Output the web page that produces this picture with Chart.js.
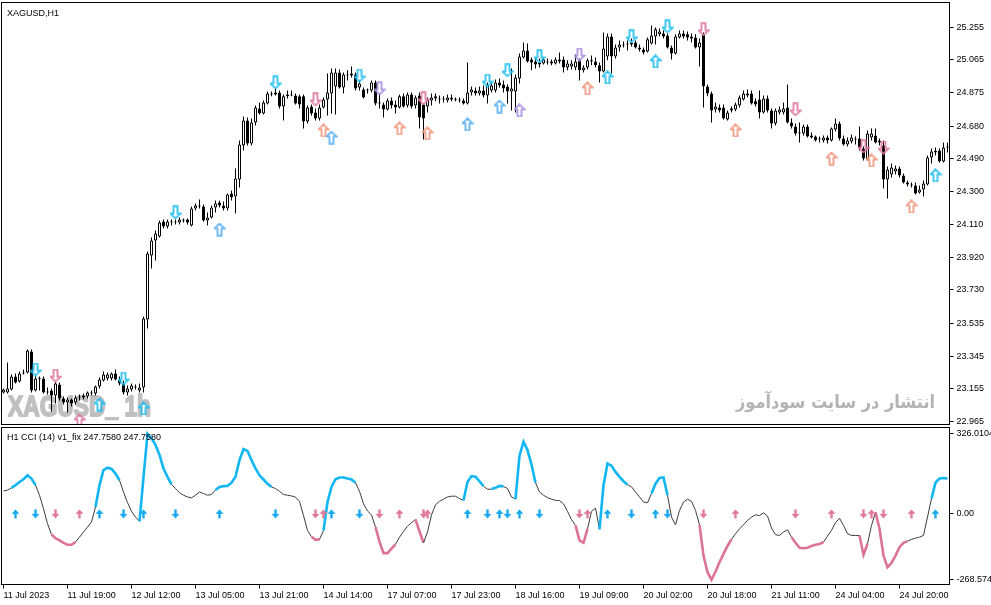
<!DOCTYPE html>
<html>
<head>
<meta charset="utf-8">
<title>XAGUSD,H1</title>
<script src="https://cdn.jsdelivr.net/npm/chart.js@4.4.1/dist/chart.umd.min.js"></script>
<style>
    html, body { margin: 0; padding: 0; background: #fff; }
    #wrap { position: relative; width: 991px; height: 605px; overflow: hidden; }
    #price { position: absolute; left: 0; top: 0; }
    #cci { position: absolute; left: 0; top: 425px; }
</style>
</head>
<body>
<div id="wrap">
    <canvas id="price" width="991" height="430"></canvas>
    <canvas id="cci" width="991" height="180"></canvas>
</div>
<script>
// H1 candles, 11 Jul 2023 .. 24 Jul 2023
const OPEN = [
    23.134, 23.134, 23.151, 23.227, 23.198, 23.244, 23.250, 23.372, 23.145, 23.215,
    23.215, 23.140, 23.145, 23.116, 23.180, 23.099, 23.076, 23.093, 23.076, 23.105,
    23.105, 23.110, 23.134, 23.128, 23.168, 23.203, 23.215, 23.215, 23.244, 23.209,
    23.186, 23.134, 23.151, 23.168, 23.145, 23.163, 23.558, 23.929, 24.016, 24.040,
    24.127, 24.098, 24.121, 24.121, 24.121, 24.132, 24.138, 24.103, 24.202, 24.214,
    24.214, 24.132, 24.150, 24.208, 24.237, 24.220, 24.202, 24.289, 24.272, 24.371,
    24.568, 24.713, 24.580, 24.702, 24.783, 24.754, 24.812, 24.864, 24.876, 24.876,
    24.794, 24.853, 24.858, 24.858, 24.853, 24.853, 24.707, 24.794, 24.760, 24.725,
    24.789, 24.835, 24.870, 24.911, 24.992, 24.905, 24.974, 24.974, 24.980, 24.905,
    24.893, 24.887, 24.887, 24.934, 24.812, 24.806, 24.777, 24.829, 24.806, 24.789,
    24.853, 24.800, 24.864, 24.800, 24.858, 24.806, 24.794, 24.829, 24.853, 24.841,
    24.835, 24.829, 24.847, 24.835, 24.835, 24.829, 24.812, 24.876, 24.887, 24.870,
    24.887, 24.858, 24.887, 24.887, 24.934, 24.922, 24.911, 24.882, 24.882, 24.957,
    25.079, 25.120, 25.067, 25.056, 25.038, 25.044, 25.056, 25.056, 25.044, 25.067,
    25.067, 25.021, 25.027, 25.021, 25.062, 25.004, 25.021, 25.062, 25.056, 25.033,
    24.998, 25.085, 25.201, 25.085, 25.137, 25.154, 25.154, 25.154, 25.166, 25.137,
    25.125, 25.114, 25.160, 25.201, 25.213, 25.218, 25.207, 25.137, 25.102, 25.195,
    25.218, 25.213, 25.189, 25.195, 25.137, 25.213, 24.911, 24.870, 24.777, 24.789,
    24.789, 24.719, 24.771, 24.777, 24.800, 24.835, 24.858, 24.870, 24.824, 24.835,
    24.760, 24.841, 24.771, 24.696, 24.760, 24.760, 24.789, 24.702, 24.678, 24.638,
    24.638, 24.678, 24.626, 24.620, 24.603, 24.597, 24.614, 24.597, 24.661, 24.696,
    24.609, 24.574, 24.591, 24.609, 24.609, 24.551, 24.487, 24.614, 24.626, 24.597,
    24.568, 24.371, 24.400, 24.417, 24.434, 24.394, 24.353, 24.341, 24.336, 24.295,
    24.312, 24.341, 24.498, 24.527, 24.539, 24.475, 24.556
];
const HIGH = [
    23.157, 23.308, 23.238, 23.244, 23.256, 23.267, 23.383, 23.383, 23.232, 23.227,
    23.227, 23.163, 23.157, 23.198, 23.192, 23.110, 23.105, 23.099, 23.116, 23.122,
    23.128, 23.140, 23.145, 23.174, 23.221, 23.256, 23.250, 23.250, 23.267, 23.227,
    23.203, 23.174, 23.186, 23.180, 23.186, 23.575, 23.952, 24.034, 24.074, 24.132,
    24.138, 24.138, 24.138, 24.138, 24.150, 24.144, 24.144, 24.214, 24.231, 24.254,
    24.225, 24.179, 24.220, 24.249, 24.249, 24.243, 24.289, 24.307, 24.434, 24.597,
    24.736, 24.731, 24.725, 24.800, 24.818, 24.829, 24.882, 24.882, 24.899, 24.887,
    24.864, 24.887, 24.887, 24.870, 24.864, 24.864, 24.800, 24.806, 24.783, 24.806,
    24.847, 24.986, 25.015, 25.015, 25.009, 24.992, 25.004, 25.027, 24.992, 24.945,
    24.905, 24.899, 24.945, 24.945, 24.870, 24.818, 24.841, 24.847, 24.829, 24.864,
    24.870, 24.876, 24.876, 24.858, 24.876, 24.812, 24.847, 24.870, 24.870, 24.858,
    24.853, 24.864, 24.864, 24.847, 24.847, 24.841, 25.050, 24.911, 24.905, 24.911,
    24.916, 24.934, 24.934, 24.951, 24.957, 24.945, 24.922, 25.015, 24.980, 25.102,
    25.166, 25.160, 25.079, 25.073, 25.073, 25.079, 25.073, 25.067, 25.079, 25.108,
    25.085, 25.062, 25.062, 25.096, 25.073, 25.033, 25.073, 25.091, 25.079, 25.050,
    25.224, 25.218, 25.218, 25.154, 25.178, 25.172, 25.178, 25.189, 25.178, 25.154,
    25.137, 25.195, 25.265, 25.253, 25.247, 25.236, 25.218, 25.149, 25.213, 25.236,
    25.236, 25.230, 25.218, 25.213, 25.189, 25.224, 24.922, 24.882, 24.818, 24.806,
    24.806, 24.771, 24.794, 24.818, 24.858, 24.887, 24.893, 24.887, 24.841, 24.887,
    24.858, 24.858, 24.783, 24.783, 24.794, 24.818, 24.922, 24.725, 24.696, 24.702,
    24.690, 24.690, 24.643, 24.626, 24.620, 24.626, 24.626, 24.673, 24.725, 24.707,
    24.626, 24.614, 24.632, 24.620, 24.678, 24.562, 24.655, 24.667, 24.667, 24.609,
    24.597, 24.446, 24.463, 24.452, 24.446, 24.405, 24.365, 24.353, 24.353, 24.336,
    24.365, 24.510, 24.551, 24.556, 24.551, 24.585, 24.585
];
const LOW = [
    23.128, 23.128, 23.145, 23.186, 23.192, 23.238, 23.244, 23.134, 23.140, 23.145,
    23.128, 23.122, 23.023, 23.070, 23.087, 23.064, 23.018, 23.052, 23.064, 23.087,
    23.093, 23.099, 23.116, 23.116, 23.157, 23.198, 23.203, 23.203, 23.203, 23.174,
    23.122, 23.116, 23.140, 23.151, 23.134, 23.134, 23.505, 23.854, 23.900, 24.034,
    24.086, 24.086, 24.103, 24.109, 24.109, 24.121, 24.109, 24.098, 24.191, 24.202,
    24.127, 24.103, 24.144, 24.179, 24.208, 24.191, 24.191, 24.249, 24.173, 24.324,
    24.539, 24.568, 24.568, 24.684, 24.748, 24.748, 24.806, 24.853, 24.858, 24.783,
    24.713, 24.841, 24.853, 24.806, 24.783, 24.667, 24.696, 24.742, 24.713, 24.713,
    24.783, 24.742, 24.754, 24.748, 24.899, 24.870, 24.945, 24.963, 24.887, 24.887,
    24.841, 24.870, 24.876, 24.800, 24.783, 24.731, 24.771, 24.783, 24.754, 24.783,
    24.789, 24.789, 24.783, 24.783, 24.667, 24.603, 24.760, 24.800, 24.824, 24.812,
    24.818, 24.818, 24.824, 24.824, 24.818, 24.806, 24.806, 24.858, 24.858, 24.858,
    24.847, 24.812, 24.876, 24.876, 24.905, 24.876, 24.812, 24.771, 24.760, 24.928,
    25.073, 25.050, 25.004, 25.015, 25.021, 25.038, 25.038, 25.033, 25.038, 25.044,
    24.992, 25.004, 25.009, 25.004, 24.945, 24.992, 25.009, 25.033, 25.021, 24.934,
    24.992, 25.062, 24.986, 25.073, 25.114, 25.137, 25.120, 25.143, 25.131, 25.114,
    25.096, 25.108, 25.154, 25.154, 25.201, 25.189, 25.131, 25.067, 25.096, 25.189,
    25.189, 25.178, 25.166, 25.131, 25.027, 24.789, 24.853, 24.702, 24.760, 24.760,
    24.719, 24.713, 24.760, 24.766, 24.789, 24.829, 24.847, 24.806, 24.794, 24.725,
    24.754, 24.760, 24.667, 24.684, 24.748, 24.748, 24.696, 24.667, 24.626, 24.585,
    24.626, 24.614, 24.609, 24.591, 24.585, 24.585, 24.580, 24.591, 24.649, 24.597,
    24.568, 24.562, 24.580, 24.574, 24.539, 24.481, 24.481, 24.597, 24.580, 24.568,
    24.318, 24.260, 24.382, 24.400, 24.382, 24.347, 24.330, 24.324, 24.283, 24.289,
    24.272, 24.336, 24.463, 24.510, 24.469, 24.469, 24.527
];
const CLOSE = [
    23.151, 23.157, 23.227, 23.192, 23.244, 23.250, 23.378, 23.145, 23.215, 23.213,
    23.134, 23.134, 23.116, 23.186, 23.099, 23.076, 23.093, 23.070, 23.105, 23.110,
    23.116, 23.134, 23.128, 23.168, 23.209, 23.238, 23.238, 23.244, 23.209, 23.186,
    23.134, 23.157, 23.174, 23.163, 23.163, 23.563, 23.941, 24.016, 24.057, 24.121,
    24.098, 24.127, 24.121, 24.127, 24.138, 24.132, 24.121, 24.202, 24.220, 24.220,
    24.132, 24.150, 24.208, 24.231, 24.220, 24.202, 24.283, 24.266, 24.376, 24.574,
    24.713, 24.580, 24.702, 24.789, 24.754, 24.818, 24.870, 24.870, 24.864, 24.794,
    24.853, 24.864, 24.864, 24.812, 24.806, 24.707, 24.789, 24.754, 24.725, 24.789,
    24.835, 24.876, 24.992, 24.992, 24.905, 24.980, 24.980, 24.986, 24.899, 24.928,
    24.847, 24.893, 24.934, 24.812, 24.818, 24.777, 24.829, 24.800, 24.789, 24.853,
    24.794, 24.864, 24.794, 24.847, 24.731, 24.725, 24.835, 24.847, 24.841, 24.835,
    24.838, 24.847, 24.835, 24.833, 24.829, 24.812, 24.876, 24.893, 24.870, 24.887,
    24.858, 24.922, 24.916, 24.934, 24.916, 24.899, 24.882, 24.899, 24.963, 25.085,
    25.120, 25.056, 25.050, 25.038, 25.050, 25.067, 25.050, 25.044, 25.067, 25.056,
    25.021, 25.044, 25.044, 25.056, 25.004, 25.021, 25.062, 25.056, 25.033, 24.998,
    25.131, 25.201, 25.085, 25.137, 25.154, 25.149, 25.160, 25.166, 25.137, 25.125,
    25.108, 25.184, 25.207, 25.242, 25.230, 25.201, 25.137, 25.102, 25.201, 25.218,
    25.201, 25.195, 25.201, 25.137, 25.166, 24.911, 24.870, 24.771, 24.794, 24.771,
    24.725, 24.760, 24.783, 24.806, 24.847, 24.870, 24.870, 24.812, 24.806, 24.760,
    24.841, 24.771, 24.696, 24.771, 24.777, 24.783, 24.702, 24.678, 24.638, 24.643,
    24.678, 24.620, 24.614, 24.597, 24.609, 24.614, 24.597, 24.667, 24.696, 24.609,
    24.574, 24.597, 24.614, 24.603, 24.551, 24.492, 24.638, 24.638, 24.585, 24.585,
    24.371, 24.429, 24.440, 24.434, 24.394, 24.353, 24.341, 24.336, 24.289, 24.312,
    24.347, 24.498, 24.533, 24.536, 24.475, 24.556, 24.562
];

// CCI(14) per bar
const CCI = [
    93, 97, 106, 117, 130, 141, 157, 144, 117, 76,
    21, -40, -84, -99, -108, -118, -126, -126, -115, -95,
    -74, -54, -33, 28, 117, 178, 188, 183, 164, 137,
    89, 46, 10, -13, -31, 150, 326.0104, 308, 281, 240,
    185, 151, 120, 103, 86, 76, 69, 65, 76, 89,
    83, 76, 79, 97, 110, 113, 114, 127, 151, 219,
    264, 256, 219, 185, 157, 140, 123, 110, 103, 92,
    79, 76, 73, 68, 51, -7, -68, -93, -106, -104,
    -68, 48, 110, 141, 148, 148, 144, 140, 127, 92,
    41, 12, -4, -54, -113, -160, -160, -142, -124, -95,
    -72, -50, -36, -23, -72, -118, -74, -4, 37, 51,
    60, 69, 72, 72, 62, 55, 130, 154, 151, 133,
    113, 100, 101, 106, 114, 112, 103, 69, 60, 237,
    294, 260, 201, 127, 89, 76, 66, 60, 55, 54,
    41, 10, -23, -47, -108, -118, -61, 10, 23, -63,
    117, 205, 196, 171, 151, 133, 119, 110, 89, 69,
    48, 45, 83, 123, 146, 148, 76, -13, -45, 14,
    48, 60, 51, 14, -45, -170, -238, -268.574, -236, -197,
    -163, -131, -104, -81, -61, -45, -27, -13, -4, -7,
    4, -9, -58, -85, -88, -74, -65, -95, -118, -138,
    -140, -138, -131, -126, -123, -115, -91, -67, -36, -18,
    -47, -81, -88, -88, -88, -167, -122, -47, 7, -61,
    -170, -218, -200, -170, -136, -118, -111, -104, -99, -95,
    -88, -13, 62, 127, 144, 146, 144
];
// bar ranges where the CCI line is drawn in colour
const CCI_UP_ZONES = [[2, 8], [23, 29], [34, 42], [53, 67], [80, 88], [115, 120], [122, 125], [128, 133], [149, 156], [162, 166], [232, 236]];
const CCI_DOWN_ZONES = [[12, 18], [77, 79], [93, 98], [103, 105], [143, 146], [174, 182], [197, 205], [214, 216], [218, 226]];

// signal arrows on the price pane
const ARROW_BARS = [8, 13, 19, 24, 30, 35, 43, 54, 68, 78, 80, 82, 89, 94, 99, 105, 106, 116, 121, 124, 126, 129, 134, 144, 146, 151, 157, 163, 166, 175, 183, 198, 207, 215, 217, 220, 227, 233];
const ARROW_PRICES = [23.267, 23.232, 22.971, 23.064, 23.215, 23.041, 24.179, 24.080, 24.934, 24.835, 24.655, 24.614, 24.974, 24.899, 24.667, 24.841, 24.638, 24.690, 24.945, 24.794, 25.004, 24.771, 25.085, 25.096, 24.899, 24.963, 25.201, 25.056, 25.259, 25.242, 24.655, 24.777, 24.492, 24.562, 24.481, 24.556, 24.214, 24.394];
const ARROW_KINDS = ['cyan-down', 'pink-down', 'pink-up', 'cyan-up', 'cyan-down', 'cyan-up', 'cyan-down', 'blue-up', 'cyan-down', 'pink-down', 'orange-up', 'blue-up', 'cyan-down', 'purple-down', 'orange-up', 'pink-down', 'orange-up', 'blue-up', 'cyan-down', 'blue-up', 'cyan-down', 'purple-up', 'cyan-down', 'purple-down', 'orange-up', 'cyan-up', 'cyan-down', 'cyan-up', 'cyan-down', 'pink-down', 'orange-up', 'pink-down', 'orange-up', 'pink-down', 'orange-up', 'pink-down', 'orange-up', 'cyan-up'];

// signal arrows on the CCI zero line
const CCI_ARROW_BARS = [3, 8, 13, 19, 24, 30, 35, 43, 54, 68, 78, 80, 82, 89, 94, 99, 105, 106, 116, 121, 124, 126, 129, 134, 144, 146, 151, 157, 163, 166, 175, 183, 198, 207, 215, 217, 220, 227, 233];
const CCI_ARROW_KINDS = ['cyan-up', 'cyan-down', 'pink-down', 'pink-up', 'cyan-up', 'cyan-down', 'cyan-up', 'cyan-down', 'cyan-up', 'cyan-down', 'pink-down', 'pink-up', 'cyan-up', 'cyan-down', 'pink-down', 'pink-up', 'pink-down', 'pink-up', 'cyan-up', 'cyan-down', 'cyan-up', 'cyan-down', 'cyan-up', 'cyan-down', 'pink-down', 'pink-up', 'cyan-up', 'cyan-down', 'cyan-up', 'cyan-down', 'pink-down', 'pink-up', 'pink-down', 'pink-up', 'pink-down', 'pink-up', 'pink-down', 'pink-up', 'cyan-up'];

// axes
const PRICE_MIN = 22.948;
const PRICE_MAX = 25.398;
const PRICE_TICKS = [25.255, 25.065, 24.875, 24.680, 24.490, 24.300, 24.110, 23.920, 23.730, 23.535, 23.345, 23.155, 22.965];
const CCI_MIN = -288;
const CCI_MAX = 352;
const CCI_TICKS = [326.0104, 0, -268.574];
const CCI_TICK_LABELS = ['326.0104', '0.00', '-268.574'];
const TIME_TICK_BARS = [0, 16, 32, 48, 64, 80, 96, 112, 128, 144, 160, 176, 192, 208, 224];
const TIME_TICKS = ['11 Jul 2023', '11 Jul 19:00', '12 Jul 12:00', '13 Jul 05:00', '13 Jul 21:00', '14 Jul 14:00', '17 Jul 07:00', '17 Jul 23:00', '18 Jul 16:00', '19 Jul 09:00', '20 Jul 02:00', '20 Jul 18:00', '21 Jul 11:00', '24 Jul 04:00', '24 Jul 20:00'];

const SYMBOL_TITLE = 'XAGUSD,H1';
const CCI_TITLE = 'H1 CCI (14) v1_fix 247.7580 247.7580';
const WATERMARK = 'XAGUSD_ 1h';
const WATERMARK_FA = 'انتشار در سایت سودآموز';

const TEXT_FONT = '"Liberation Sans", Arial, sans-serif';
const FONT = { family: TEXT_FONT, size: 9 };
const AXIS_WIDTH = 41.5;

const ARROW_COLORS = {
    cyan: '#22bff2',
    blue: '#5cb0f2',
    pink: '#e0789e',
    orange: '#f0987e',
    purple: '#a98fe0'
};
const CCI_COLORS = {
    up: '#12b6f2',
    down: '#dc7398',
    flat: '#3c3c3c',
    cyan: '#1ba8ee',
    pink: '#e07a9c'
};

const bars = CLOSE.map((_, i) => i);

/**
 * Hollow block arrow like the terminal's arrow objects
 */
function hollowArrow(color, up) {
    const c = document.createElement('canvas');
    c.width = 12;
    c.height = 14;
    const g = c.getContext('2d');
    if (!up) {
        g.translate(0, 14);
        g.scale(1, -1);
    }
    g.beginPath();
    g.moveTo(6, 1);
    g.lineTo(11, 6);
    g.lineTo(8, 6);
    g.lineTo(8, 13);
    g.lineTo(4, 13);
    g.lineTo(4, 6);
    g.lineTo(1, 6);
    g.closePath();
    g.lineWidth = 1.7;
    g.strokeStyle = color;
    g.stroke();
    return c;
}

/**
 * Small filled arrow used in the indicator window
 */
function solidArrow(color, up) {
    const c = document.createElement('canvas');
    c.width = 9;
    c.height = 10;
    const g = c.getContext('2d');
    if (!up) {
        g.translate(0, 10);
        g.scale(1, -1);
    }
    g.fillStyle = color;
    g.beginPath();
    g.moveTo(4.5, 0.5);
    g.lineTo(8.5, 5);
    g.lineTo(5.7, 5);
    g.lineTo(5.7, 9.5);
    g.lineTo(3.3, 9.5);
    g.lineTo(3.3, 5);
    g.lineTo(0.5, 5);
    g.closePath();
    g.fill();
    return c;
}

const hollowCache = {};
function hollowFor(kind) {
    if (!hollowCache[kind]) {
        const [col, dir] = kind.split('-');
        hollowCache[kind] = hollowArrow(ARROW_COLORS[col], dir === 'up');
    }
    return hollowCache[kind];
}
const solidCache = {};
function solidFor(kind) {
    if (!solidCache[kind]) {
        const [col, dir] = kind.split('-');
        solidCache[kind] = solidArrow(CCI_COLORS[col], dir === 'up');
    }
    return solidCache[kind];
}

function zoneColor(i0, i1) {
    if (CCI_UP_ZONES.some(([a, b]) => i0 >= a && i1 <= b)) return CCI_COLORS.up;
    if (CCI_DOWN_ZONES.some(([a, b]) => i0 >= a && i1 <= b)) return CCI_COLORS.down;
    return null;
}

// black frame round a pane
const paneFrame = {
    id: 'paneFrame',
    afterDraw(chart) {
        const { ctx, chartArea: a } = chart;
        ctx.save();
        ctx.strokeStyle = '#000';
        ctx.lineWidth = 1;
        ctx.strokeRect(a.left, a.top, a.right - a.left, a.bottom - a.top);
        ctx.restore();
    }
};

const priceTexts = {
    id: 'priceTexts',
    beforeDatasetsDraw(chart) {
        const ctx = chart.ctx;
        ctx.save();
        ctx.fillStyle = '#c0c0c0';
        ctx.strokeStyle = '#c0c0c0';
        ctx.lineWidth = 2;
        ctx.lineJoin = 'round';
        ctx.font = 'bold 30px "Liberation Sans Narrow", "Liberation Sans", sans-serif';
        ctx.textAlign = 'left';
        ctx.textBaseline = 'alphabetic';
        const w = ctx.measureText(WATERMARK).width;
        ctx.translate(8, 416);
        ctx.scale(143 / w, 1);
        ctx.strokeText(WATERMARK, 0, 0);
        ctx.fillText(WATERMARK, 0, 0);
        ctx.restore();

        ctx.save();
        ctx.fillStyle = '#b4b4b4';
        ctx.font = 'bold 18px "DejaVu Sans", sans-serif';
        ctx.direction = 'rtl';
        ctx.textAlign = 'right';
        ctx.textBaseline = 'alphabetic';
        const wf = ctx.measureText(WATERMARK_FA).width;
        ctx.translate(935, 408);
        ctx.scale(199 / wf, 1);
        ctx.fillText(WATERMARK_FA, 0, 0);
        ctx.restore();
    },
    afterDraw(chart) {
        const ctx = chart.ctx;
        ctx.save();
        ctx.fillStyle = '#000';
        ctx.font = '9px ' + TEXT_FONT;
        ctx.textAlign = 'left';
        ctx.textBaseline = 'alphabetic';
        ctx.fillText(SYMBOL_TITLE, 7, 15.5);
        ctx.restore();
    }
};

const cciTexts = {
    id: 'cciTexts',
    afterDraw(chart) {
        const ctx = chart.ctx;
        ctx.save();
        ctx.fillStyle = '#000';
        ctx.font = '9px ' + TEXT_FONT;
        ctx.textAlign = 'left';
        ctx.textBaseline = 'alphabetic';
        ctx.fillText(CCI_TITLE, 7, 14.5);
        ctx.restore();
    }
};

function rightAxis(min, max, ticks, labelFor) {
    return {
        position: 'right',
        min: min,
        max: max,
        afterBuildTicks: s => { s.ticks = ticks.map(v => ({ value: v })); },
        afterFit: s => { s.width = AXIS_WIDTH; s.paddingTop = 0; s.paddingBottom = 0; },
        ticks: { padding: 3, color: '#000', font: FONT, autoSkip: false, callback: labelFor },
        grid: { drawOnChartArea: false, tickLength: 4, color: '#000' },
        border: { display: true, color: '#000' }
    };
}

new Chart(document.getElementById('price'), {
    type: 'bar',
    data: {
        labels: bars,
        datasets: [
            {
                type: 'line',
                data: ARROW_BARS.map((b, i) => ({ x: b, y: ARROW_PRICES[i] })),
                showLine: false,
                pointStyle: ctx => hollowFor(ARROW_KINDS[ctx.dataIndex]),
                pointRadius: 5,
                order: 0
            },
            {
                data: OPEN.map((o, i) => [o, CLOSE[i]]),
                backgroundColor: ctx => CLOSE[ctx.dataIndex] > OPEN[ctx.dataIndex] ? '#fff' : '#000',
                borderColor: '#000',
                borderWidth: 1,
                borderSkipped: false,
                barThickness: 3,
                minBarLength: 1,
                grouped: false,
                inflateAmount: 0,
                order: 1
            },
            {
                data: LOW.map((l, i) => [l, HIGH[i]]),
                backgroundColor: '#000',
                borderWidth: 0,
                barThickness: 1,
                grouped: false,
                inflateAmount: 0,
                order: 2
            }
        ]
    },
    options: {
        responsive: false,
        animation: false,
        events: [],
        layout: { autoPadding: false, padding: { left: 1.5, top: 2.5, right: 0, bottom: 5.5 } },
        plugins: { legend: { display: false }, tooltip: { enabled: false } },
        scales: {
            x: { display: false, offset: true },
            y: rightAxis(PRICE_MIN, PRICE_MAX, PRICE_TICKS, v => Number(v).toFixed(3))
        }
    },
    plugins: [priceTexts, paneFrame]
});

new Chart(document.getElementById('cci'), {
    type: 'line',
    data: {
        labels: bars,
        datasets: [
            {
                data: CCI_ARROW_BARS.map(b => ({ x: b, y: 0 })),
                showLine: false,
                pointStyle: ctx => solidFor(CCI_ARROW_KINDS[ctx.dataIndex]),
                pointRadius: 5,
                order: 0
            },
            {
                data: CCI,
                borderColor: CCI_COLORS.flat,
                borderWidth: 1,
                pointRadius: 0,
                tension: 0,
                order: 1,
                segment: {
                    borderColor: ctx => zoneColor(ctx.p0DataIndex, ctx.p1DataIndex) || CCI_COLORS.flat,
                    borderWidth: ctx => zoneColor(ctx.p0DataIndex, ctx.p1DataIndex) ? 2.6 : 1
                }
            }
        ]
    },
    options: {
        responsive: false,
        animation: false,
        events: [],
        layout: { autoPadding: false, padding: { left: 1.5, top: 2.5, right: 0, bottom: 0 } },
        plugins: { legend: { display: false }, tooltip: { enabled: false } },
        scales: {
            x: {
                offset: true,
                afterBuildTicks: s => { s.ticks = TIME_TICK_BARS.map(v => ({ value: v })); },
                afterFit: s => { s.height = 20.5; s.paddingLeft = 0; s.paddingRight = 0; },
                ticks: {
                    autoSkip: false,
                    maxRotation: 0,
                    align: 'start',
                    padding: 2,
                    color: '#000',
                    font: FONT,
                    callback: (v, i) => TIME_TICKS[i]
                },
                grid: { drawOnChartArea: false, offset: false, tickLength: 4, color: '#000' },
                border: { display: true, color: '#000' }
            },
            y: rightAxis(CCI_MIN, CCI_MAX, CCI_TICKS, (v, i) => CCI_TICK_LABELS[i])
        }
    },
    plugins: [cciTexts, paneFrame]
});
</script>
</body>
</html>
